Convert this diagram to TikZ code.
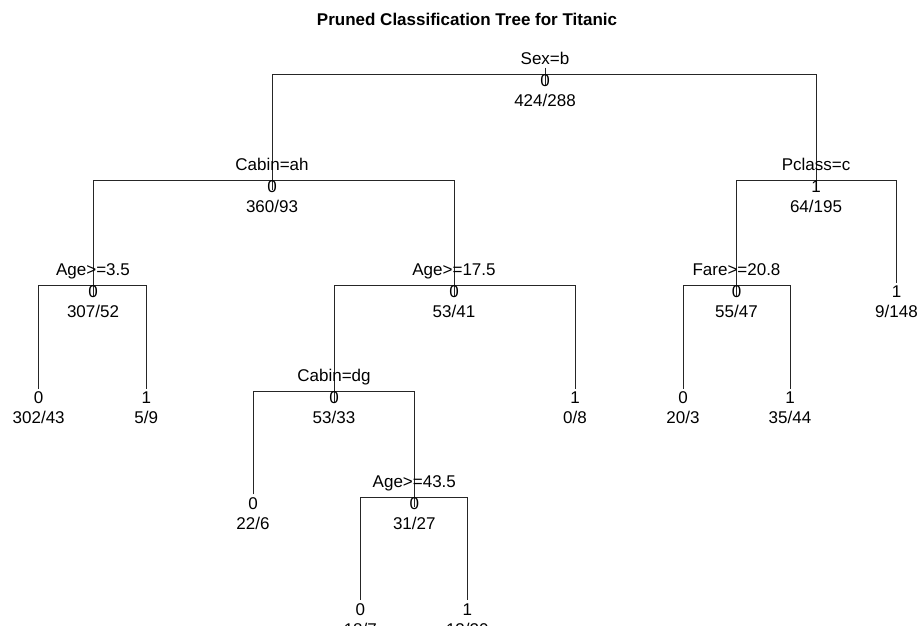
\documentclass[tikz,border=0pt]{standalone}
\usepackage{fontspec}
\setmainfont{Liberation Sans}
\usetikzlibrary{calc}

\begin{document}
\begin{tikzpicture}[
  x=1pt, y=-1pt,
  splitlabel/.style={inner sep=0pt, anchor=base, font=\fontsize{17}{20}\selectfont},
  yvallabel/.style={inner sep=0pt, anchor=base, font=\fontsize{17}{20}\selectfont},
  countlabel/.style={inner sep=0pt, anchor=base, font=\fontsize{17}{20}\selectfont},
  titletext/.style={inner sep=0pt, anchor=base, font=\fontsize{17}{20}\selectfont\bfseries},
  branch/.style={line width=0.9pt, black!85}
]
  \useasboundingbox (0,0) rectangle (923,625);
  \clip (0,0) rectangle (923,625);

  \node[titletext] (title) at (467,25) {Pruned Classification Tree for Titanic};

  % split points (bar level of each internal node)
  \coordinate (sex)    at (545,74.5);
  \coordinate (cabah)  at (272,180.2);
  \coordinate (pclass) at (816,180.2);
  \coordinate (age35)  at (93,285.9);
  \coordinate (age175) at (454,285.9);
  \coordinate (fare)   at (736.5,285.9);
  \coordinate (cabdg)  at (334,391.6);
  \coordinate (age435) at (414.3,497.3);
  % leaves
  \coordinate (leafA) at (896.5,285.9);
  \coordinate (leafB) at (38.7,391.6);
  \coordinate (leafC) at (146.3,391.6);
  \coordinate (leafD) at (575,391.6);
  \coordinate (leafE) at (683,391.6);
  \coordinate (leafF) at (790,391.6);
  \coordinate (leafG) at (253,497.3);
  \coordinate (leafH) at (360.3,603);
  \coordinate (leafI) at (467.3,603);

  % branches
  \draw[branch] ($(sex)+(0,-7)$) -- ($(sex)+(0,10)$);
  \draw[branch] ($(cabah)+(0,10)$) |- (sex) -| ($(pclass)+(0,10)$);
  \draw[branch] ($(age35)+(0,10)$) |- (cabah) -| ($(age175)+(0,10)$);
  \draw[branch] ($(fare)+(0,10)$) |- (pclass) -| ($(leafA)+(0,-3)$);
  \draw[branch] ($(leafB)+(0,-3)$) |- (age35) -| ($(leafC)+(0,-3)$);
  \draw[branch] ($(cabdg)+(0,10)$) |- (age175) -| ($(leafD)+(0,-3)$);
  \draw[branch] ($(leafE)+(0,-3)$) |- (fare) -| ($(leafF)+(0,-3)$);
  \draw[branch] ($(leafG)+(0,-3)$) |- (cabdg) -| ($(age435)+(0,10)$);
  \draw[branch] ($(leafH)+(0,-3)$) |- (age435) -| ($(leafI)+(0,-3)$);

  % internal node labels
  \node[splitlabel] (sexs) at ($(sex)+(0,-10)$) {Sex=b};
  \node[yvallabel] (sexy) at ($(sex)+(0,12)$) {0};
  \node[countlabel] (sexn) at ($(sex)+(0,32)$) {424/288};

  \node[splitlabel] (cabahs) at ($(cabah)+(0,-10)$) {Cabin=ah};
  \node[yvallabel] (cabahy) at ($(cabah)+(0,12)$) {0};
  \node[countlabel] (cabahn) at ($(cabah)+(0,32)$) {360/93};

  \node[splitlabel] (pclasss) at ($(pclass)+(0,-10)$) {Pclass=c};
  \node[yvallabel] (pclassy) at ($(pclass)+(0,12)$) {1};
  \node[countlabel] (pclassn) at ($(pclass)+(0,32)$) {64/195};

  \node[splitlabel] (age35s) at ($(age35)+(0,-10)$) {Age>=3.5};
  \node[yvallabel] (age35y) at ($(age35)+(0,12)$) {0};
  \node[countlabel] (age35n) at ($(age35)+(0,32)$) {307/52};

  \node[splitlabel] (age175s) at ($(age175)+(0,-10)$) {Age>=17.5};
  \node[yvallabel] (age175y) at ($(age175)+(0,12)$) {0};
  \node[countlabel] (age175n) at ($(age175)+(0,32)$) {53/41};

  \node[splitlabel] (fares) at ($(fare)+(0,-10)$) {Fare>=20.8};
  \node[yvallabel] (farey) at ($(fare)+(0,12)$) {0};
  \node[countlabel] (faren) at ($(fare)+(0,32)$) {55/47};

  \node[splitlabel] (cabdgs) at ($(cabdg)+(0,-10)$) {Cabin=dg};
  \node[yvallabel] (cabdgy) at ($(cabdg)+(0,12)$) {0};
  \node[countlabel] (cabdgn) at ($(cabdg)+(0,32)$) {53/33};

  \node[splitlabel] (age435s) at ($(age435)+(0,-10)$) {Age>=43.5};
  \node[yvallabel] (age435y) at ($(age435)+(0,12)$) {0};
  \node[countlabel] (age435n) at ($(age435)+(0,32)$) {31/27};

  % leaf labels
  \node[yvallabel] (leafAy) at ($(leafA)+(0,12)$) {1};
  \node[countlabel] (leafAn) at ($(leafA)+(0,32)$) {9/148};
  \node[yvallabel] (leafBy) at ($(leafB)+(0,12)$) {0};
  \node[countlabel] (leafBn) at ($(leafB)+(0,32)$) {302/43};
  \node[yvallabel] (leafCy) at ($(leafC)+(0,12)$) {1};
  \node[countlabel] (leafCn) at ($(leafC)+(0,32)$) {5/9};
  \node[yvallabel] (leafDy) at ($(leafD)+(0,12)$) {1};
  \node[countlabel] (leafDn) at ($(leafD)+(0,32)$) {0/8};
  \node[yvallabel] (leafEy) at ($(leafE)+(0,12)$) {0};
  \node[countlabel] (leafEn) at ($(leafE)+(0,32)$) {20/3};
  \node[yvallabel] (leafFy) at ($(leafF)+(0,12)$) {1};
  \node[countlabel] (leafFn) at ($(leafF)+(0,32)$) {35/44};
  \node[yvallabel] (leafGy) at ($(leafG)+(0,12)$) {0};
  \node[countlabel] (leafGn) at ($(leafG)+(0,32)$) {22/6};
  \node[yvallabel] (leafHy) at ($(leafH)+(0,12)$) {0};
  \node[countlabel] (leafHn) at ($(leafH)+(0,32)$) {18/7};
  \node[yvallabel] (leafIy) at ($(leafI)+(0,12)$) {1};
  \node[countlabel] (leafIn) at ($(leafI)+(0,32)$) {13/20};
\end{tikzpicture}
\end{document}
